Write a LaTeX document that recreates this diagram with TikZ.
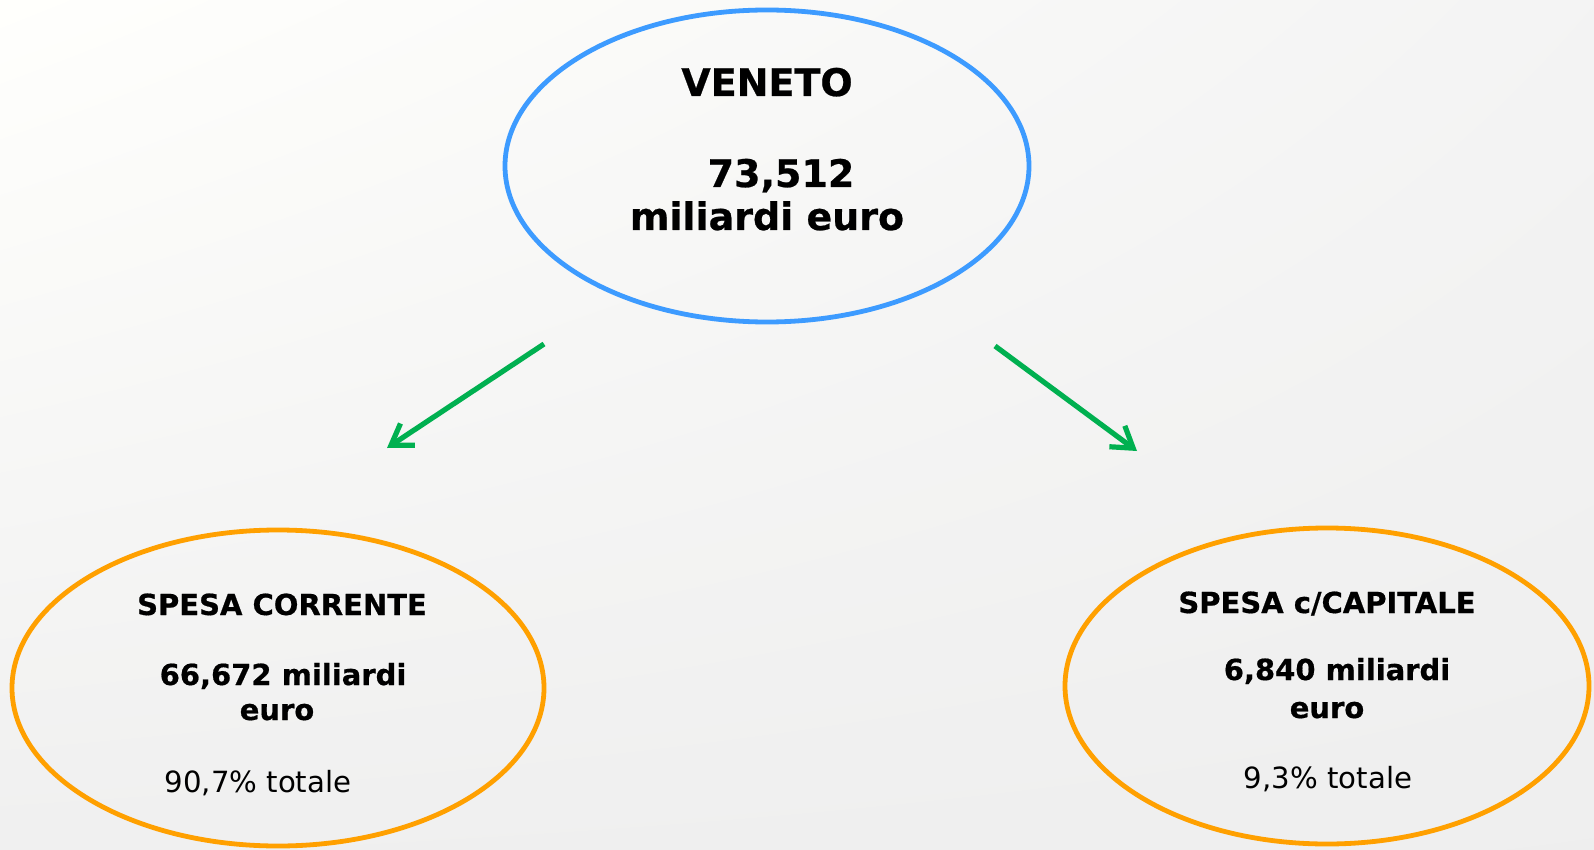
\documentclass[tikz,border=0pt]{standalone}
\usepackage{fontspec}
\setmainfont[BoldFeatures={FakeBold=0.6}]{DejaVu Sans}
\usetikzlibrary{arrows.meta}
\usetikzlibrary{shapes.geometric}
\usetikzlibrary{shadings}

\definecolor{bordoblu}{RGB}{61,155,255}
\definecolor{bordoarancio}{RGB}{255,160,0}
\definecolor{verdefreccia}{RGB}{0,176,80}

\tikzset{
  ovale/.style={ellipse, draw, line width=2.4pt, inner sep=0pt},
  titolo/.style={anchor=base, font=\bfseries\fontsize{19}{23}\selectfont},
  voce/.style={anchor=base, font=\bfseries\fontsize{14.5}{17}\selectfont},
  quota/.style={anchor=base, font=\fontsize{14.6}{17}\selectfont},
  freccia/.style={draw=verdefreccia, line width=2.6pt,
    -{Straight Barb[length=10pt,width=13pt,line width=2.6pt]}}
}

\begin{document}
\begin{tikzpicture}[x=0.5pt,y=-0.5pt]

    \useasboundingbox (0,0) rectangle (1594,850);
    \shade[upper left=white!99!yellow, upper right=gray!9, lower left=gray!12, lower right=gray!13]
        (0,0) rectangle (1594,850);

    % ellissi
    \node[ovale, draw=bordoblu, minimum width=262pt, minimum height=156pt] (veneto) at (767,166) {};
    \node[ovale, draw=bordoarancio, minimum width=266pt, minimum height=158pt] (corrente) at (278,688) {};
    \node[ovale, draw=bordoarancio, minimum width=262pt, minimum height=158pt] (capitale) at (1327,686) {};

    % testi
    \node[titolo] (nome) at (767,96) {VENETO};
    \node[titolo] (totale) at (781,187) {73,512};
    \node[titolo] (unita) at (767,230) {miliardi euro};

    \node[voce] (corr1) at (282,615) {SPESA CORRENTE};
    \node[voce] (corr2) at (283,685) {66,672 miliardi};
    \node[voce] (corr3) at (277,720) {euro};
    \node[quota] (corr4) at (258,792) {90,7\% totale};

    \node[voce] (cap1) at (1327,613) {SPESA c/CAPITALE};
    \node[voce] (cap2) at (1337,680) {6,840 miliardi};
    \node[voce] (cap3) at (1327,718) {euro};
    \node[quota] (cap4) at (1328,788) {9,3\% totale};

    % frecce
    \coordinate (sx1) at (544,344);
    \coordinate (sx2) at (387,448);
    \coordinate (dx1) at (995,346);
    \coordinate (dx2) at (1137,451);
    \draw[freccia] (sx1) -- (sx2);
    \draw[freccia] (dx1) -- (dx2);

\end{tikzpicture}
\end{document}
